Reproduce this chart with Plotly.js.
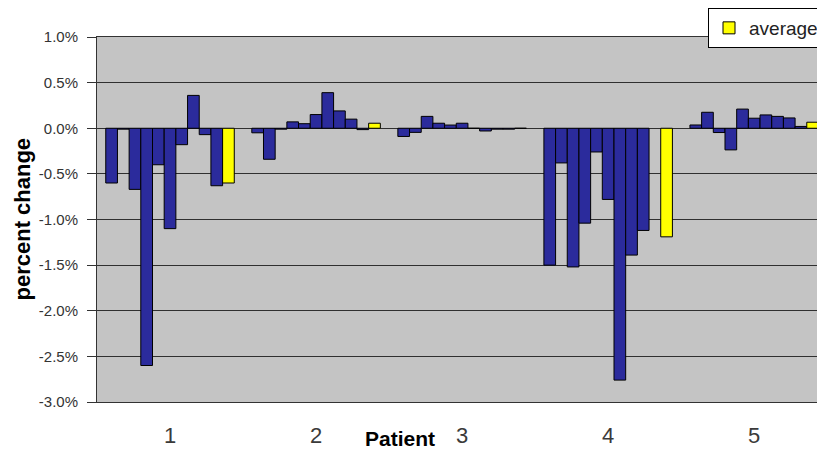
<!DOCTYPE html>
<html>
<head>
<meta charset="utf-8">
<script src="https://cdn.plot.ly/plotly-3.0.1.min.js"></script>
<style>html,body{margin:0;padding:0;background:#fff;overflow:hidden}#chart{width:817px;height:451px}</style>
</head>
<body>
<div id="chart"></div>
<script>
// Categories (patients)
const patients = ['1', '2', '3', '4', '5'];
// Ten individual measurements per patient (percent change)
const patient1 = [-0.60, -0.01, -0.67, -2.60, -0.40, -1.10, -0.18, 0.36, -0.07, -0.63];
const patient2 = [-0.05, -0.34, -0.01, 0.07, 0.05, 0.15, 0.39, 0.19, 0.10, -0.015];
const patient3 = [-0.09, -0.045, 0.13, 0.055, 0.035, 0.055, 0, -0.03, -0.01, -0.01];
const patient4 = [-1.50, -0.38, -1.52, -1.04, -0.26, -0.78, -2.76, -1.39, -1.12, null];
const patient5 = [0.036, 0.175, -0.047, -0.237, 0.21, 0.11, 0.146, 0.13, 0.113, 0.02];
// Average per patient
const average = [-0.60, 0.055, 0.0, -1.19, 0.066];
// Y tick labels
const yTickVals = [1.0, 0.5, 0.0, -0.5, -1.0, -1.5, -2.0, -2.5, -3.0];
const yTickText = ['1.0%', '0.5%', '0.0%', '-0.5%', '-1.0%', '-1.5%', '-2.0%', '-2.5%', '-3.0%'];

const allPatients = [patient1, patient2, patient3, patient4, patient5];
const FONT = 'Liberation Sans, Arial, sans-serif';

const traces = [];
for (let j = 0; j < patient1.length; j++) {
  traces.push({
    type: 'bar',
    x: patients,
    y: allPatients.map(p => p[j]),
    name: 'measurement ' + (j + 1),
    marker: {color: '#2b2b9c', line: {color: '#000', width: 1}},
    showlegend: false,
    hoverinfo: 'skip'
  });
}
traces.push({
  type: 'bar',
  x: patients,
  y: average,
  name: 'average',
  marker: {color: '#ffff00', line: {color: '#000', width: 1}},
  showlegend: true
});

const layout = {
  width: 817,
  height: 451,
  margin: {l: 97, r: 0, t: 37, b: 49, autoexpand: false},
  paper_bgcolor: '#ffffff',
  plot_bgcolor: '#c4c4c4',
  barmode: 'group',
  bargap: 0.12,
  bargroupgap: 0,
  font: {family: FONT, color: '#333'},
  xaxis: {
    type: 'category',
    range: [-0.5, 4.43],
    showgrid: false,
    zeroline: false,
    showline: true,
    linecolor: '#333',
    linewidth: 1,
    mirror: true,
    ticks: 'outside',
    ticklen: 14,
    tickcolor: 'rgba(0,0,0,0)',
    tickfont: {family: FONT, size: 22, color: '#3a3a3a'},
    fixedrange: true
  },
  xaxis2: {
    type: 'linear',
    overlaying: 'x',
    anchor: 'free',
    position: 0.75,
    range: [-0.5, 4.43],
    showgrid: false,
    zeroline: false,
    showline: true,
    linecolor: '#222',
    linewidth: 1,
    ticks: 'outside',
    ticklen: 5,
    tickcolor: '#222',
    tickvals: [0.5, 1.5, 2.5, 3.5],
    showticklabels: false
  },
  yaxis: {
    range: [-3.0, 1.0],
    tickvals: yTickVals,
    ticktext: yTickText,
    showgrid: true,
    gridcolor: '#303030',
    gridwidth: 1,
    zeroline: false,
    showline: true,
    linecolor: '#333',
    linewidth: 1,
    ticks: 'outside',
    ticklen: 9,
    tickcolor: '#333',
    ticklabelstandoff: 6,
    tickfont: {family: FONT, size: 15, color: '#333'},
    fixedrange: true
  },
  legend: {
    x: (708 - 97) / 720,
    y: (402 - 8) / 365,
    xanchor: 'left',
    yanchor: 'top',
    bgcolor: '#ffffff',
    bordercolor: '#000',
    borderwidth: 1,
    font: {family: FONT, size: 19, color: '#222'},
    itemwidth: 30
  },
  annotations: [
    {
      text: 'percent change',
      xref: 'paper', yref: 'paper',
      x: (22 - 97) / 720, y: 0.5,
      xanchor: 'center', yanchor: 'middle',
      textangle: -90,
      showarrow: false,
      font: {family: FONT, size: 22, color: '#000', weight: 'bold'}
    },
    {
      text: 'Patient',
      xref: 'paper', yref: 'paper',
      x: (400 - 97) / 720, y: (402 - 438) / 365,
      xanchor: 'center', yanchor: 'middle',
      showarrow: false,
      font: {family: FONT, size: 21, color: '#000', weight: 'bold'}
    }
  ]
};

Plotly.newPlot('chart', traces, layout, {displayModeBar: false, staticPlot: true});
</script>
</body>
</html>
